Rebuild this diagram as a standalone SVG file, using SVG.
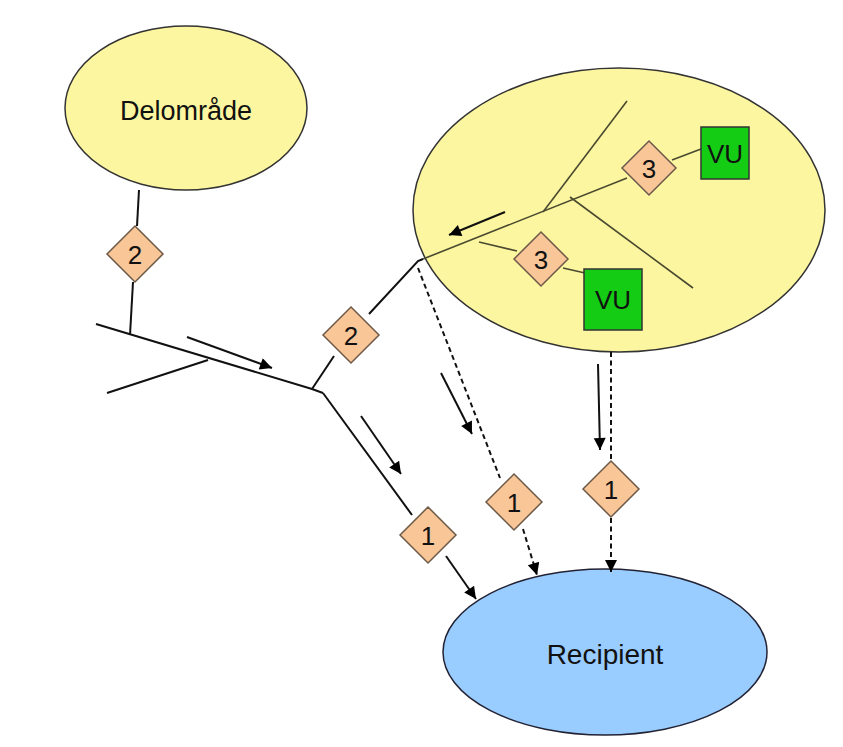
<svg xmlns="http://www.w3.org/2000/svg" width="843" height="747" viewBox="0 0 843 747">
<defs>
<marker id="ahL" viewBox="0 0 10 10" refX="10" refY="5" markerWidth="17" markerHeight="12" markerUnits="userSpaceOnUse" orient="auto">
<path d="M0,0 L10,5 L0,10 z" fill="#000"/>
</marker>
</defs>
<style>
.area{fill:#fcf6a0;stroke:#333;stroke-width:1.5}
.rec{fill:#99ccff;stroke:#223;stroke-width:1.5}
.dia{fill:#f9c698;stroke:#6d5a48;stroke-width:1.5}
.vu{fill:#14cc14;stroke:#333;stroke-width:1.5}
.lbl{font-family:"Liberation Sans",Arial,sans-serif;fill:#111;text-anchor:middle}
.ln{stroke:#111;stroke-width:2;fill:none}
.thin{stroke:#4a4a30;stroke-width:1.6;fill:none}
.dash{stroke:#111;stroke-width:2;fill:none;stroke-dasharray:5,3.5}
.arr{stroke:#111;stroke-width:2;fill:none;marker-end:url(#ahL)}
</style>
<rect width="843" height="747" fill="#fff"/>

<g id="delomrade">
<ellipse class="area" cx="186" cy="108" rx="121" ry="82"/>
<text class="lbl" x="186" y="120" font-size="27">Delområde</text>
</g>

<g id="subarea">
<ellipse class="area" cx="619" cy="210" rx="206" ry="142"/>
</g>

<g id="recipient">
<ellipse class="rec" cx="605" cy="652" rx="162" ry="83"/>
<text class="lbl" x="605" y="664" font-size="28">Recipient</text>
</g>

<g id="connectors">
<line class="ln" x1="139" y1="190" x2="137" y2="226"/>
<line class="ln" x1="133" y1="282" x2="130" y2="335"/>
<polyline class="ln" points="96,324 312,389 323,393"/>
<line class="ln" x1="107" y1="393" x2="208" y2="360"/>
<line class="arr" x1="187" y1="337" x2="272" y2="368"/>
<line class="ln" x1="312" y1="389" x2="334" y2="356"/>
<polyline class="ln" points="369,314 418,261 423,259"/>
<line class="ln" x1="323" y1="393" x2="412" y2="515"/>
<line class="ln" x1="446" y1="556" x2="476" y2="599" marker-end="url(#ahL)"/>
<line class="arr" x1="361" y1="416" x2="401" y2="474"/>
<line class="dash" x1="418" y1="268" x2="500" y2="478"/>
<line class="dash" x1="523" y1="529" x2="537" y2="575" marker-end="url(#ahL)"/>
<line class="arr" x1="441" y1="373" x2="472" y2="434"/>
<line class="dash" x1="611" y1="352" x2="611" y2="461"/>
<line class="dash" x1="611" y1="518" x2="611" y2="572" marker-end="url(#ahL)"/>
<line class="arr" x1="598" y1="364" x2="600" y2="450"/>
<line class="thin" x1="423" y1="259" x2="627" y2="178"/>
<line class="thin" x1="672" y1="160" x2="701" y2="149"/>
<line class="thin" x1="543" y1="212" x2="627" y2="101"/>
<line class="thin" x1="570" y1="197" x2="693" y2="288"/>
<line class="thin" x1="479" y1="242" x2="517" y2="251"/>
<line class="thin" x1="563" y1="268" x2="585" y2="273"/>
<line class="arr" x1="505" y1="212" x2="449" y2="235"/>
</g>

<g id="d2a">
<polygon class="dia" points="135,226 163,254 135,282 107,254"/>
<text class="lbl" x="135" y="264" font-size="26">2</text>
</g>
<g id="d2b">
<polygon class="dia" points="351,307 379,335 351,363 323,335"/>
<text class="lbl" x="351" y="345" font-size="26">2</text>
</g>
<g id="d1a">
<polygon class="dia" points="428,507 456,535 428,563 400,535"/>
<text class="lbl" x="428" y="545" font-size="26">1</text>
</g>
<g id="d1b">
<polygon class="dia" points="514,474 542,502 514,530 486,502"/>
<text class="lbl" x="514" y="512" font-size="26">1</text>
</g>
<g id="d1c">
<polygon class="dia" points="611,461 639,489 611,517 583,489"/>
<text class="lbl" x="611" y="499" font-size="26">1</text>
</g>
<g id="d3a">
<polygon class="dia" points="649,141 676,168 649,195 622,168"/>
<text class="lbl" x="649" y="178" font-size="26">3</text>
</g>
<g id="d3b">
<polygon class="dia" points="541,232 568,259 541,286 514,259"/>
<text class="lbl" x="541" y="269" font-size="26">3</text>
</g>
<g id="vu1">
<rect class="vu" x="701" y="127" width="48" height="52"/>
<text class="lbl" x="725" y="163" font-size="26">VU</text>
</g>
<g id="vu2">
<rect class="vu" x="584" y="269" width="58" height="61"/>
<text class="lbl" x="613" y="309" font-size="26">VU</text>
</g>
</svg>
